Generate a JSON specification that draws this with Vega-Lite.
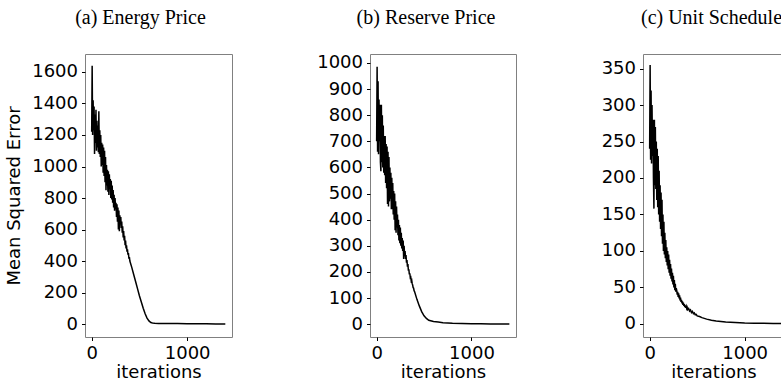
{
  "$schema": "https://vega.github.io/schema/vega-lite/v6.json",
  "padding": {"left": 5, "top": 7, "right": 0, "bottom": 0},
  "background": "white",
  "spacing": 83,
  "datasets": {
    "a": [
      {"iteration": 0, "mse": 1220}, {"iteration": 5, "mse": 1640}, {"iteration": 10, "mse": 1200}, {"iteration": 15, "mse": 1420},
      {"iteration": 20, "mse": 1230}, {"iteration": 25, "mse": 1380}, {"iteration": 30, "mse": 1080}, {"iteration": 35, "mse": 1330},
      {"iteration": 40, "mse": 1150}, {"iteration": 45, "mse": 1360}, {"iteration": 50, "mse": 1100}, {"iteration": 55, "mse": 1290},
      {"iteration": 60, "mse": 1120}, {"iteration": 65, "mse": 1260}, {"iteration": 70, "mse": 1090}, {"iteration": 75, "mse": 1350},
      {"iteration": 80, "mse": 1080}, {"iteration": 85, "mse": 1230}, {"iteration": 90, "mse": 1060}, {"iteration": 95, "mse": 1200},
      {"iteration": 100, "mse": 1000}, {"iteration": 105, "mse": 1150}, {"iteration": 110, "mse": 1010}, {"iteration": 115, "mse": 1140},
      {"iteration": 120, "mse": 960}, {"iteration": 125, "mse": 1120}, {"iteration": 130, "mse": 940}, {"iteration": 135, "mse": 1100},
      {"iteration": 140, "mse": 900}, {"iteration": 145, "mse": 1060}, {"iteration": 150, "mse": 850}, {"iteration": 155, "mse": 1010},
      {"iteration": 160, "mse": 880}, {"iteration": 165, "mse": 980}, {"iteration": 170, "mse": 840}, {"iteration": 175, "mse": 970},
      {"iteration": 180, "mse": 820}, {"iteration": 185, "mse": 950}, {"iteration": 190, "mse": 860}, {"iteration": 195, "mse": 920},
      {"iteration": 200, "mse": 800}, {"iteration": 205, "mse": 910}, {"iteration": 210, "mse": 790}, {"iteration": 215, "mse": 880},
      {"iteration": 220, "mse": 770}, {"iteration": 225, "mse": 850}, {"iteration": 230, "mse": 740}, {"iteration": 235, "mse": 820},
      {"iteration": 240, "mse": 720}, {"iteration": 245, "mse": 800}, {"iteration": 250, "mse": 730}, {"iteration": 255, "mse": 770},
      {"iteration": 260, "mse": 680}, {"iteration": 265, "mse": 760}, {"iteration": 270, "mse": 650}, {"iteration": 275, "mse": 740},
      {"iteration": 280, "mse": 600}, {"iteration": 285, "mse": 720}, {"iteration": 290, "mse": 590}, {"iteration": 295, "mse": 690},
      {"iteration": 300, "mse": 640}, {"iteration": 305, "mse": 680}, {"iteration": 310, "mse": 610}, {"iteration": 315, "mse": 650},
      {"iteration": 320, "mse": 580}, {"iteration": 325, "mse": 620}, {"iteration": 330, "mse": 550}, {"iteration": 335, "mse": 590},
      {"iteration": 340, "mse": 530}, {"iteration": 345, "mse": 560}, {"iteration": 350, "mse": 500}, {"iteration": 355, "mse": 530},
      {"iteration": 360, "mse": 480}, {"iteration": 365, "mse": 500}, {"iteration": 370, "mse": 460}, {"iteration": 375, "mse": 475},
      {"iteration": 380, "mse": 440}, {"iteration": 385, "mse": 450}, {"iteration": 390, "mse": 415}, {"iteration": 395, "mse": 425},
      {"iteration": 400, "mse": 400}, {"iteration": 420, "mse": 360}, {"iteration": 440, "mse": 315}, {"iteration": 460, "mse": 270},
      {"iteration": 480, "mse": 225}, {"iteration": 500, "mse": 180}, {"iteration": 520, "mse": 140}, {"iteration": 540, "mse": 100},
      {"iteration": 560, "mse": 65}, {"iteration": 580, "mse": 38}, {"iteration": 600, "mse": 20}, {"iteration": 620, "mse": 10},
      {"iteration": 640, "mse": 6}, {"iteration": 660, "mse": 5}, {"iteration": 700, "mse": 4}, {"iteration": 800, "mse": 3},
      {"iteration": 900, "mse": 3}, {"iteration": 1000, "mse": 2}, {"iteration": 1100, "mse": 2}, {"iteration": 1200, "mse": 2},
      {"iteration": 1300, "mse": 1}, {"iteration": 1400, "mse": 1}
    ],
    "b": [
      {"iteration": 0, "mse": 700}, {"iteration": 5, "mse": 985}, {"iteration": 10, "mse": 660}, {"iteration": 15, "mse": 930},
      {"iteration": 20, "mse": 650}, {"iteration": 25, "mse": 860}, {"iteration": 30, "mse": 700}, {"iteration": 35, "mse": 840},
      {"iteration": 40, "mse": 620}, {"iteration": 45, "mse": 585}, {"iteration": 50, "mse": 840}, {"iteration": 55, "mse": 620},
      {"iteration": 60, "mse": 800}, {"iteration": 65, "mse": 600}, {"iteration": 70, "mse": 760}, {"iteration": 75, "mse": 580},
      {"iteration": 80, "mse": 720}, {"iteration": 85, "mse": 570}, {"iteration": 90, "mse": 720}, {"iteration": 95, "mse": 540},
      {"iteration": 100, "mse": 690}, {"iteration": 105, "mse": 520}, {"iteration": 110, "mse": 680}, {"iteration": 115, "mse": 460},
      {"iteration": 120, "mse": 660}, {"iteration": 125, "mse": 450}, {"iteration": 130, "mse": 640}, {"iteration": 135, "mse": 470},
      {"iteration": 140, "mse": 600}, {"iteration": 145, "mse": 480}, {"iteration": 150, "mse": 580}, {"iteration": 155, "mse": 440},
      {"iteration": 160, "mse": 560}, {"iteration": 165, "mse": 440}, {"iteration": 170, "mse": 540}, {"iteration": 175, "mse": 420},
      {"iteration": 180, "mse": 510}, {"iteration": 185, "mse": 400}, {"iteration": 190, "mse": 500}, {"iteration": 195, "mse": 360},
      {"iteration": 200, "mse": 470}, {"iteration": 205, "mse": 350}, {"iteration": 210, "mse": 450}, {"iteration": 215, "mse": 370},
      {"iteration": 220, "mse": 420}, {"iteration": 225, "mse": 340}, {"iteration": 230, "mse": 400}, {"iteration": 235, "mse": 320},
      {"iteration": 240, "mse": 380}, {"iteration": 245, "mse": 310}, {"iteration": 250, "mse": 370}, {"iteration": 255, "mse": 300},
      {"iteration": 260, "mse": 350}, {"iteration": 265, "mse": 290}, {"iteration": 270, "mse": 330}, {"iteration": 275, "mse": 280},
      {"iteration": 280, "mse": 320}, {"iteration": 285, "mse": 250}, {"iteration": 290, "mse": 300}, {"iteration": 295, "mse": 260},
      {"iteration": 300, "mse": 280}, {"iteration": 305, "mse": 250}, {"iteration": 310, "mse": 265}, {"iteration": 315, "mse": 235},
      {"iteration": 320, "mse": 245}, {"iteration": 325, "mse": 220}, {"iteration": 330, "mse": 230}, {"iteration": 335, "mse": 205},
      {"iteration": 340, "mse": 210}, {"iteration": 345, "mse": 190}, {"iteration": 350, "mse": 195}, {"iteration": 355, "mse": 178},
      {"iteration": 360, "mse": 180}, {"iteration": 365, "mse": 165}, {"iteration": 370, "mse": 168}, {"iteration": 375, "mse": 155},
      {"iteration": 380, "mse": 150}, {"iteration": 385, "mse": 140}, {"iteration": 390, "mse": 138}, {"iteration": 395, "mse": 128},
      {"iteration": 400, "mse": 125}, {"iteration": 425, "mse": 95}, {"iteration": 450, "mse": 70}, {"iteration": 475, "mse": 48},
      {"iteration": 500, "mse": 32}, {"iteration": 525, "mse": 22}, {"iteration": 550, "mse": 15}, {"iteration": 600, "mse": 10},
      {"iteration": 650, "mse": 8}, {"iteration": 700, "mse": 6}, {"iteration": 800, "mse": 4}, {"iteration": 900, "mse": 3},
      {"iteration": 1000, "mse": 2}, {"iteration": 1100, "mse": 2}, {"iteration": 1200, "mse": 1}, {"iteration": 1300, "mse": 1},
      {"iteration": 1400, "mse": 1}
    ],
    "c": [
      {"iteration": 0, "mse": 240}, {"iteration": 5, "mse": 355}, {"iteration": 10, "mse": 225}, {"iteration": 15, "mse": 320},
      {"iteration": 20, "mse": 220}, {"iteration": 25, "mse": 300}, {"iteration": 30, "mse": 230}, {"iteration": 35, "mse": 280},
      {"iteration": 40, "mse": 200}, {"iteration": 45, "mse": 158}, {"iteration": 50, "mse": 280}, {"iteration": 55, "mse": 190},
      {"iteration": 60, "mse": 270}, {"iteration": 65, "mse": 185}, {"iteration": 70, "mse": 250}, {"iteration": 75, "mse": 170},
      {"iteration": 80, "mse": 240}, {"iteration": 85, "mse": 160}, {"iteration": 90, "mse": 230}, {"iteration": 95, "mse": 150},
      {"iteration": 100, "mse": 210}, {"iteration": 105, "mse": 140}, {"iteration": 110, "mse": 190}, {"iteration": 115, "mse": 130},
      {"iteration": 120, "mse": 180}, {"iteration": 125, "mse": 120}, {"iteration": 130, "mse": 170}, {"iteration": 135, "mse": 110},
      {"iteration": 140, "mse": 150}, {"iteration": 145, "mse": 100}, {"iteration": 150, "mse": 140}, {"iteration": 155, "mse": 95},
      {"iteration": 160, "mse": 125}, {"iteration": 165, "mse": 90}, {"iteration": 170, "mse": 115}, {"iteration": 175, "mse": 85},
      {"iteration": 180, "mse": 105}, {"iteration": 185, "mse": 80}, {"iteration": 190, "mse": 100}, {"iteration": 195, "mse": 75},
      {"iteration": 200, "mse": 95}, {"iteration": 205, "mse": 70}, {"iteration": 210, "mse": 88}, {"iteration": 215, "mse": 66},
      {"iteration": 220, "mse": 82}, {"iteration": 225, "mse": 62}, {"iteration": 230, "mse": 76}, {"iteration": 235, "mse": 58},
      {"iteration": 240, "mse": 70}, {"iteration": 245, "mse": 54}, {"iteration": 250, "mse": 66}, {"iteration": 255, "mse": 50},
      {"iteration": 260, "mse": 60}, {"iteration": 265, "mse": 46}, {"iteration": 270, "mse": 55}, {"iteration": 275, "mse": 44},
      {"iteration": 280, "mse": 49}, {"iteration": 285, "mse": 46}, {"iteration": 290, "mse": 40}, {"iteration": 295, "mse": 44},
      {"iteration": 300, "mse": 37}, {"iteration": 305, "mse": 42}, {"iteration": 310, "mse": 35}, {"iteration": 315, "mse": 39},
      {"iteration": 320, "mse": 32}, {"iteration": 325, "mse": 36}, {"iteration": 330, "mse": 30}, {"iteration": 335, "mse": 33},
      {"iteration": 340, "mse": 28}, {"iteration": 345, "mse": 31}, {"iteration": 350, "mse": 26}, {"iteration": 355, "mse": 29},
      {"iteration": 360, "mse": 24.5}, {"iteration": 365, "mse": 27}, {"iteration": 370, "mse": 23}, {"iteration": 375, "mse": 25.5},
      {"iteration": 380, "mse": 22}, {"iteration": 385, "mse": 24}, {"iteration": 390, "mse": 21}, {"iteration": 395, "mse": 22.5},
      {"iteration": 400, "mse": 19.5}, {"iteration": 410, "mse": 21}, {"iteration": 420, "mse": 17.5}, {"iteration": 430, "mse": 19},
      {"iteration": 440, "mse": 15.5}, {"iteration": 450, "mse": 17}, {"iteration": 460, "mse": 14}, {"iteration": 470, "mse": 15},
      {"iteration": 480, "mse": 12.5}, {"iteration": 490, "mse": 13}, {"iteration": 500, "mse": 11}, {"iteration": 525, "mse": 10},
      {"iteration": 550, "mse": 8.5}, {"iteration": 600, "mse": 6.5}, {"iteration": 650, "mse": 5}, {"iteration": 700, "mse": 4},
      {"iteration": 800, "mse": 2.5}, {"iteration": 900, "mse": 1.8}, {"iteration": 1000, "mse": 1.2}, {"iteration": 1100, "mse": 1},
      {"iteration": 1200, "mse": 0.8}, {"iteration": 1300, "mse": 0.6}, {"iteration": 1400, "mse": 0.5}
    ]
  },
  "hconcat": [
    {
      "width": 147, "height": 283,
      "title": {"text": "(a) Energy Price", "dx": -18},
      "data": {"name": "a"},
      "mark": {"type": "line", "color": "black", "strokeWidth": 1.5},
      "encoding": {
        "x": {"field": "iteration", "type": "quantitative", "scale": {"domain": [-70, 1470], "nice": false, "zero": false}, "axis": {"values": [0, 1000], "format": "d", "title": "iterations"}},
        "y": {"field": "mse", "type": "quantitative", "scale": {"domain": [-82, 1714], "nice": false, "zero": false}, "axis": {"values": [0, 200, 400, 600, 800, 1000, 1200, 1400, 1600], "format": "d", "title": "Mean Squared Error"}}
      }
    },
    {
      "width": 146, "height": 283,
      "title": {"text": "(b) Reserve Price", "dx": -17},
      "data": {"name": "b"},
      "mark": {"type": "line", "color": "black", "strokeWidth": 1.5},
      "encoding": {
        "x": {"field": "iteration", "type": "quantitative", "scale": {"domain": [-70, 1470], "nice": false, "zero": false}, "axis": {"values": [0, 1000], "format": "d", "title": "iterations"}},
        "y": {"field": "mse", "type": "quantitative", "scale": {"domain": [-49, 1034], "nice": false, "zero": false}, "axis": {"values": [0, 100, 200, 300, 400, 500, 600, 700, 800, 900, 1000], "format": "d", "title": null}}
      }
    },
    {
      "width": 141, "height": 283,
      "title": {"text": "(c) Unit Schedule", "dx": -2},
      "data": {"name": "c"},
      "mark": {"type": "line", "color": "black", "strokeWidth": 1.5},
      "encoding": {
        "x": {"field": "iteration", "type": "quantitative", "scale": {"domain": [-70, 1414], "nice": false, "zero": false}, "axis": {"values": [0, 1000], "format": "d", "title": "iterations"}},
        "y": {"field": "mse", "type": "quantitative", "scale": {"domain": [-18, 370], "nice": false, "zero": false}, "axis": {"values": [0, 50, 100, 150, 200, 250, 300, 350], "format": "d", "title": null}}
      }
    }
  ],
  "config": {
    "view": {"stroke": "#808080", "strokeWidth": 1},
    "axis": {"domain": false, "grid": false, "tickColor": "black", "tickSize": 3.5, "tickWidth": 1, "labelFont": "DejaVu Sans", "labelFontSize": 18, "labelColor": "black", "labelPadding": 4, "titleFont": "DejaVu Sans", "titleFontSize": 18, "titleFontWeight": "normal", "titleColor": "black"},
    "axisX": {"labelFlush": false, "titlePadding": 1},
    "axisY": {"titlePadding": 8},
    "title": {"font": "Liberation Serif", "fontSize": 20, "fontWeight": "normal", "color": "black", "offset": 26, "anchor": "middle"}
  }
}
